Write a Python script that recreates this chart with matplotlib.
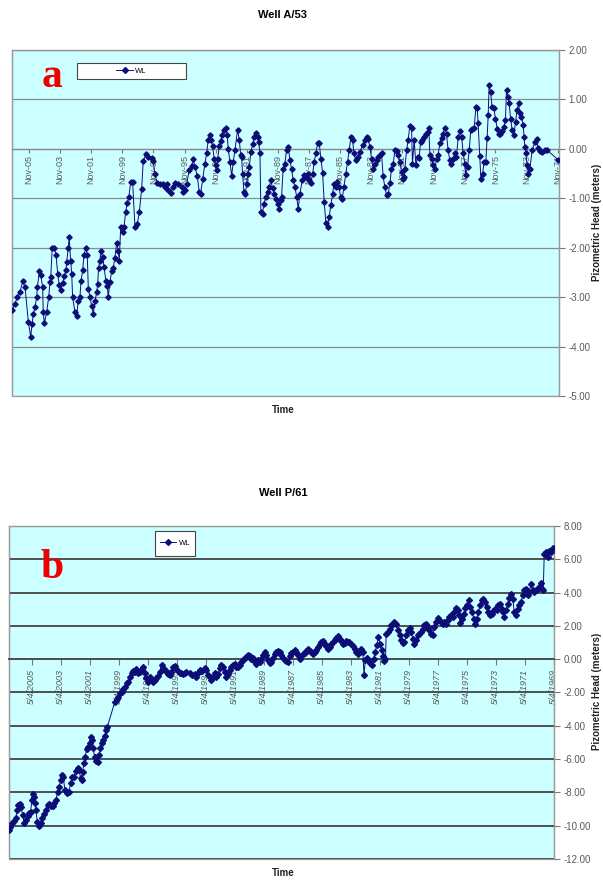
import numpy as np
import matplotlib
matplotlib.use("Agg")
import matplotlib.pyplot as plt
from matplotlib.patches import Rectangle
from matplotlib.lines import Line2D

plt.rcParams['font.family'] = ['Liberation Sans', 'DejaVu Sans']

# --- well A/53 (decimal year, water level m) ---
years_a = [
    2006.91, 2006.74, 2006.59, 2006.42, 2006.24, 2006.09, 2005.88, 2005.73, 2005.64, 2005.56,
    2005.45, 2005.34, 2005.30, 2005.17, 2005.08, 2004.96, 2004.92, 2004.85, 2004.70, 2004.57,
    2004.49, 2004.44, 2004.34, 2004.21, 2004.10, 2003.99, 2003.89, 2003.80, 2003.67, 2003.57,
    2003.46, 2003.41, 2003.31, 2003.25, 2003.16, 2003.09, 2003.03, 2002.88, 2002.77, 2002.67,
    2002.56, 2002.49, 2002.38, 2002.30, 2002.17, 2002.09, 2002.02, 2001.91, 2001.81, 2001.70,
    2001.59, 2001.48, 2001.42, 2001.36, 2001.27, 2001.23, 2001.10, 2001.01, 2000.89, 2000.80,
    2000.74, 2000.63, 2000.52, 2000.42, 2000.31, 2000.20, 2000.09, 2000.03, 1999.94, 1999.81,
    1999.73, 1999.62, 1999.52, 1999.41, 1999.30, 1999.17, 1999.02, 1998.87, 1998.74, 1998.59,
    1998.49, 1998.31, 1998.17, 1997.95, 1997.84, 1997.74, 1997.59, 1997.41, 1997.24, 1997.09,
    1996.98, 1996.88, 1996.73, 1996.60, 1996.45, 1996.24, 1996.02, 1995.92, 1995.81, 1995.70,
    1995.53, 1995.38, 1995.27, 1995.16, 1995.01, 1994.89, 1994.80, 1994.67, 1994.52, 1994.41,
    1994.31, 1994.20, 1994.13, 1994.03, 1993.92, 1993.83, 1993.77, 1993.70, 1993.60, 1993.51,
    1993.41, 1993.30, 1993.19, 1993.09, 1993.02, 1992.91, 1992.80, 1992.70, 1992.59, 1992.42,
    1992.31, 1992.22, 1992.16, 1992.10, 1992.01, 1991.93, 1991.84, 1991.77, 1991.67, 1991.56,
    1991.45, 1991.35, 1991.24, 1991.13, 1991.07, 1990.98, 1990.92, 1990.81, 1990.73, 1990.60,
    1990.49, 1990.39, 1990.28, 1990.17, 1990.06, 1989.95, 1989.85, 1989.74, 1989.65, 1989.59,
    1989.49, 1989.38, 1989.27, 1989.16, 1989.05, 1988.95, 1988.84, 1988.73, 1988.62, 1988.52,
    1988.41, 1988.26, 1988.15, 1988.03, 1987.92, 1987.81, 1987.72, 1987.59, 1987.49, 1987.38,
    1987.27, 1987.17, 1987.06, 1986.95, 1986.85, 1986.74, 1986.63, 1986.53, 1986.42, 1986.31,
    1986.23, 1986.12, 1986.01, 1985.90, 1985.79, 1985.69, 1985.58, 1985.45, 1985.34, 1985.24,
    1985.13, 1985.02, 1984.94, 1984.83, 1984.70, 1984.55, 1984.38, 1984.23, 1984.12, 1984.02,
    1983.91, 1983.80, 1983.70, 1983.59, 1983.48, 1983.38, 1983.27, 1983.16, 1983.06, 1982.95,
    1982.84, 1982.73, 1982.62, 1982.52, 1982.41, 1982.30, 1982.19, 1982.09, 1981.98, 1981.87,
    1981.81, 1981.72, 1981.66, 1981.55, 1981.45, 1981.34, 1981.23, 1981.17, 1981.06, 1980.95,
    1980.84, 1980.74, 1980.65, 1980.55, 1980.44, 1980.31, 1980.20, 1980.12, 1980.05, 1979.94,
    1979.84, 1979.73, 1979.62, 1979.52, 1979.41, 1979.30, 1979.20, 1979.09, 1978.98, 1978.88,
    1978.77, 1978.66, 1978.55, 1978.45, 1978.34, 1978.23, 1978.12, 1978.01, 1977.91, 1977.80,
    1977.74, 1977.63, 1977.52, 1977.42, 1977.31, 1977.20, 1977.09, 1977.01, 1976.95, 1976.84,
    1976.77, 1976.66, 1976.56, 1976.45, 1976.37, 1976.30, 1976.24, 1976.15, 1976.05, 1975.94,
    1975.83, 1975.72, 1975.62, 1975.51, 1975.40, 1975.29, 1975.19, 1975.12, 1975.04, 1974.95,
    1974.86, 1974.76, 1974.65, 1974.54, 1974.44, 1974.35, 1974.27, 1974.16, 1974.05, 1973.99,
    1973.94, 1973.88, 1973.80, 1973.71, 1973.62, 1973.47, 1973.30, 1973.19, 1973.09, 1972.94,
    1972.81, 1972.66, 1972.50, 1971.80,
]
level_a = [
    -3.26, -3.13, -3.00, -2.90, -2.68, -2.80, -3.50, -3.80, -3.55, -3.35,
    -3.20, -3.00, -2.80, -2.48, -2.55, -2.80, -3.30, -3.53, -3.30, -3.00,
    -2.70, -2.60, -2.00, -2.00, -2.14, -2.53, -2.75, -2.86, -2.72, -2.58,
    -2.45, -2.28, -2.00, -1.79, -2.26, -2.53, -3.00, -3.30, -3.38, -3.07,
    -3.00, -2.67, -2.45, -2.14, -2.00, -2.14, -2.84, -3.00, -3.18, -3.34,
    -3.07, -2.90, -2.73, -2.41, -2.26, -2.07, -2.18, -2.40, -2.67, -2.77,
    -3.00, -2.70, -2.47, -2.41, -2.20, -1.91, -2.06, -2.26, -1.59, -1.69,
    -1.59, -1.28, -1.09, -0.97, -0.68, -0.68, -1.59, -1.52, -1.28, -0.81,
    -0.25, -0.10, -0.16, -0.18, -0.25, -0.50, -0.70, -0.71, -0.72, -0.78,
    -0.72, -0.84, -0.90, -0.78, -0.70, -0.71, -0.78, -0.88, -0.83, -0.72,
    -0.43, -0.34, -0.21, -0.36, -0.55, -0.87, -0.91, -0.62, -0.30, -0.09,
    0.18, 0.28, 0.18, 0.05, -0.20, -0.33, -0.43, -0.20, 0.05, 0.16,
    0.28, 0.38, 0.43, 0.28, -0.01, -0.26, -0.55, -0.26, -0.03, 0.39,
    0.18, -0.13, -0.16, -0.50, -0.87, -0.92, -0.72, -0.50, -0.36, -0.06,
    0.09, 0.24, 0.32, 0.23, 0.14, -0.09, -1.28, -1.31, -1.11, -0.97,
    -0.87, -0.77, -0.64, -0.80, -0.91, -1.01, -1.11, -1.21, -1.04, -0.97,
    -0.40, -0.30, -0.03, 0.04, -0.23, -0.40, -0.64, -0.77, -0.97, -1.21,
    -0.91, -0.64, -0.53, -0.57, -0.50, -0.64, -0.70, -0.50, -0.26, -0.09,
    0.11, 0.12, -0.20, -0.49, -1.07, -1.50, -1.58, -1.38, -1.14, -0.92,
    -0.72, -0.77, -0.67, -0.77, -0.97, -1.01, -0.77, -0.50, -0.26, -0.03,
    0.24, 0.18, -0.09, -0.23, -0.16, -0.06, 0.07, 0.18, 0.24, 0.19,
    0.04, -0.20, -0.40, -0.30, -0.23, -0.16, -0.13, -0.09, -0.55, -0.77,
    -0.94, -0.91, -0.70, -0.40, -0.30, -0.03, -0.05, -0.13, -0.26, -0.47,
    -0.60, -0.57, -0.40, -0.03, 0.18, 0.46, 0.43, -0.30, 0.18, -0.33,
    -0.16, -0.18, 0.14, 0.18, 0.24, 0.30, 0.34, 0.43, -0.13, -0.20,
    -0.33, -0.40, -0.20, -0.13, 0.11, 0.21, 0.31, 0.43, 0.31, -0.03,
    -0.22, -0.30, -0.20, -0.08, -0.16, 0.24, 0.36, 0.24, -0.09, -0.30,
    -0.53, -0.36, -0.03, 0.39, 0.41, 0.43, 0.85, 0.82, 0.53, -0.15,
    -0.60, -0.50, -0.26, -0.26, 0.21, 0.68, 1.29, 1.16, 0.85, 0.82,
    0.61, 0.41, 0.30, 0.30, 0.36, 0.45, 0.58, 1.20, 1.04, 0.92,
    0.61, 0.38, 0.28, 0.55, 0.78, 0.92, 0.73, 0.65, 0.48, 0.24,
    0.04, -0.09, -0.33, -0.50, -0.40, -0.03, 0.14, 0.19, 0.01, -0.04,
    -0.06, -0.03, -0.03, -0.22,
]

# --- well P/61 ---
years_b = [
    2006.90, 2006.83, 2006.71, 2006.56, 2006.44, 2006.33, 2006.26, 2006.14, 2006.07, 2005.96,
    2005.85, 2005.73, 2005.61, 2005.50, 2005.41, 2005.32, 2005.25, 2005.18, 2005.11, 2005.04,
    2004.95, 2004.83, 2004.72, 2004.61, 2004.49, 2004.35, 2004.24, 2004.12, 2004.01, 2003.89,
    2003.78, 2003.66, 2003.55, 2003.44, 2003.34, 2003.25, 2003.16, 2003.04, 2002.93, 2002.77,
    2002.65, 2002.54, 2002.42, 2002.29, 2002.17, 2002.06, 2001.96, 2001.89, 2001.82, 2001.74,
    2001.65, 2001.55, 2001.44, 2001.32, 2001.25, 2001.16, 2001.09, 2001.00, 2000.91, 2000.79,
    2000.70, 2000.59, 2000.50, 2000.41, 2000.29, 2000.22, 2000.13, 1999.60, 1999.48, 1999.37,
    1999.26, 1999.14, 1999.03, 1998.91, 1998.79, 1998.68, 1998.57, 1998.45, 1998.34, 1998.22,
    1998.11, 1998.00, 1997.88, 1997.76, 1997.65, 1997.53, 1997.42, 1997.31, 1997.19, 1997.07,
    1996.96, 1996.85, 1996.73, 1996.62, 1996.50, 1996.38, 1996.27, 1996.16, 1996.04, 1995.93,
    1995.81, 1995.70, 1995.58, 1995.47, 1995.35, 1995.24, 1995.12, 1995.01, 1994.90, 1994.78,
    1994.66, 1994.44, 1994.25, 1994.09, 1993.97, 1993.86, 1993.75, 1993.56, 1993.40, 1993.29,
    1993.17, 1993.06, 1992.94, 1992.83, 1992.71, 1992.60, 1992.49, 1992.37, 1992.25, 1992.14,
    1992.02, 1991.91, 1991.80, 1991.68, 1991.56, 1991.45, 1991.34, 1991.22, 1991.11, 1990.99,
    1990.87, 1990.76, 1990.65, 1990.53, 1990.42, 1990.30, 1990.19, 1990.08, 1989.96, 1989.84,
    1989.73, 1989.61, 1989.50, 1989.39, 1989.27, 1989.15, 1989.04, 1988.93, 1988.81, 1988.70,
    1988.58, 1988.46, 1988.35, 1988.24, 1988.12, 1988.01, 1987.89, 1987.78, 1987.66, 1987.55,
    1987.43, 1987.32, 1987.20, 1987.09, 1986.98, 1986.86, 1986.74, 1986.63, 1986.51, 1986.40,
    1986.29, 1986.17, 1986.05, 1985.94, 1985.83, 1985.71, 1985.60, 1985.48, 1985.36, 1985.25,
    1985.14, 1985.02, 1984.91, 1984.79, 1984.68, 1984.57, 1984.45, 1984.33, 1984.22, 1984.10,
    1983.99, 1983.88, 1983.76, 1983.64, 1983.53, 1983.42, 1983.30, 1983.19, 1983.07, 1982.95,
    1982.84, 1982.73, 1982.61, 1982.50, 1982.42, 1982.33, 1982.22, 1982.11, 1981.99, 1981.88,
    1981.76, 1981.65, 1981.54, 1981.42, 1981.32, 1981.21, 1981.11, 1981.01, 1980.94, 1980.89,
    1980.78, 1980.66, 1980.54, 1980.43, 1980.32, 1980.20, 1980.09, 1979.97, 1979.86, 1979.75,
    1979.63, 1979.51, 1979.40, 1979.28, 1979.17, 1979.06, 1978.94, 1978.82, 1978.71, 1978.60,
    1978.48, 1978.37, 1978.25, 1978.13, 1978.02, 1977.91, 1977.79, 1977.68, 1977.56, 1977.45,
    1977.33, 1977.22, 1977.10, 1976.99, 1976.87, 1976.76, 1976.65, 1976.53, 1976.41, 1976.30,
    1976.18, 1976.07, 1975.96, 1975.84, 1975.79, 1975.65, 1975.54, 1975.43, 1975.31, 1975.20,
    1975.08, 1974.97, 1974.86, 1974.74, 1974.65, 1974.53, 1974.41, 1974.30, 1974.19, 1974.07,
    1973.96, 1973.84, 1973.73, 1973.62, 1973.50, 1973.38, 1973.27, 1973.15, 1973.04, 1972.93,
    1972.81, 1972.74, 1972.62, 1972.51, 1972.40, 1972.28, 1972.17, 1972.05, 1971.94, 1971.82,
    1971.71, 1971.59, 1971.48, 1971.36, 1971.25, 1971.14, 1971.02, 1970.90, 1970.79, 1970.68,
    1970.56, 1970.45, 1970.33, 1970.21, 1970.14, 1970.06, 1969.99, 1969.87, 1969.76, 1969.64,
    1969.52, 1969.37,
]
level_b = [
    -10.26, -10.10, -9.86, -9.72, -9.56, -9.06, -8.76, -8.72, -8.86, -9.36,
    -9.82, -9.66, -9.42, -9.26, -9.16, -8.46, -8.10, -8.26, -8.66, -9.06,
    -9.76, -10.02, -9.82, -9.56, -9.30, -9.06, -8.76, -8.70, -8.82, -8.82,
    -8.66, -8.46, -7.96, -7.66, -7.26, -6.96, -7.10, -7.86, -8.02, -7.96,
    -7.46, -7.10, -7.06, -6.70, -6.56, -6.66, -7.16, -7.26, -6.76, -6.26,
    -5.86, -5.42, -5.30, -5.06, -4.66, -4.86, -5.36, -5.86, -6.10, -6.16,
    -5.76, -5.36, -5.06, -4.86, -4.62, -4.26, -4.10, -2.56, -2.42, -2.26,
    -2.06, -1.96, -1.82, -1.66, -1.46, -1.36, -1.10, -0.86, -0.70, -0.78,
    -0.62, -0.86, -0.76, -0.62, -0.46, -0.86, -1.16, -1.36, -1.06, -1.26,
    -1.36, -1.26, -1.16, -1.02, -0.76, -0.36, -0.56, -0.66, -0.70, -0.90,
    -0.96, -0.76, -0.46, -0.42, -0.62, -0.70, -0.82, -0.86, -0.90, -0.86,
    -0.76, -0.86, -0.96, -0.90, -1.06, -0.86, -0.66, -0.70, -0.56, -0.66,
    -0.96, -1.06, -1.26, -1.06, -0.86, -1.06, -0.90, -0.56, -0.36, -0.50,
    -0.76, -1.10, -0.90, -0.66, -0.50, -0.36, -0.26, -0.50, -0.46, -0.36,
    -0.16, -0.02, 0.10, 0.14, 0.24, 0.18, 0.04, 0.10, -0.16, -0.26,
    -0.06, -0.16, 0.04, 0.24, 0.44, 0.24, -0.02, -0.22, -0.16, 0.10,
    0.30, 0.44, 0.50, 0.44, 0.24, 0.10, -0.02, -0.10, -0.16, 0.18,
    0.38, 0.44, 0.58, 0.44, 0.24, 0.04, 0.18, 0.34, 0.38, 0.50,
    0.64, 0.50, 0.44, 0.30, 0.44, 0.58, 0.74, 0.90, 1.04, 1.10,
    0.94, 0.78, 0.64, 0.74, 0.90, 1.04, 1.18, 1.30, 1.38, 1.24,
    1.10, 0.90, 0.98, 1.10, 1.04, 1.04, 0.94, 0.78, 0.64, 0.44,
    0.34, 0.44, 0.64, 0.44, -0.96, -0.06, 0.10, -0.02, -0.22, -0.36,
    0.04, 0.44, 0.84, 1.34, 0.94, 0.54, 0.20, -0.10, 0.00, 1.54,
    1.64, 1.84, 2.04, 2.14, 2.24, 2.14, 1.74, 1.44, 1.18, 0.98,
    1.04, 1.44, 1.74, 1.90, 1.64, 1.24, 0.94, 1.14, 1.44, 1.54,
    1.64, 1.84, 2.04, 2.14, 1.94, 1.74, 1.54, 1.44, 1.94, 2.24,
    2.50, 2.38, 2.24, 2.14, 2.24, 2.14, 2.34, 2.54, 2.64, 2.54,
    2.84, 3.10, 2.94, 2.64, 2.18, 2.44, 2.74, 3.10, 3.24, 3.54,
    3.14, 2.84, 2.44, 2.14, 2.44, 2.84, 3.24, 3.54, 3.64, 3.44,
    3.14, 2.84, 2.64, 2.74, 2.90, 3.04, 2.94, 3.24, 3.34, 3.04,
    2.84, 2.54, 2.94, 3.34, 3.70, 3.90, 3.64, 2.84, 2.64, 3.04,
    3.24, 3.44, 3.84, 4.14, 4.24, 3.84, 4.04, 4.54, 4.14, 4.04,
    4.14, 4.24, 4.34, 4.58, 4.24, 4.14, 6.34, 6.44, 6.14, 6.50,
    6.44, 6.70,
]

ticks_a = [2005, 2003, 2001, 1999, 1997, 1995, 1993, 1991, 1989, 1987,
           1985, 1983, 1981, 1979, 1977, 1975, 1973, 1971]
labels_a = ['Nov-05', 'Nov-03', 'Nov-01', 'Nov-99', 'Nov-97', 'Nov-95', 'Nov-93',
            'Nov-91', 'Nov-89', 'Nov-87', 'Nov-85', 'Nov-83', 'Nov-81', 'Nov-79',
            'Nov-77', 'Nov-75', 'Nov-73', 'Nov-71']
ticks_b = [2005, 2003, 2001, 1999, 1997, 1995, 1993, 1991, 1989, 1987,
           1985, 1983, 1981, 1979, 1977, 1975, 1973, 1971, 1969]
labels_b = ['5/4/%d' % y for y in ticks_b]

BG = '#ccffff'
NAVY = '#0d0d78'
GRAY = '#5a5a5a'

fig = plt.figure(figsize=(6.03, 8.8), dpi=100)
ax_a = fig.add_axes([0.0199, 0.55, 0.907, 0.3932])
ax_b = fig.add_axes([0.0149, 0.0239, 0.9038, 0.3784])


def style_axes(ax, ylo, yhi, ystep, gridcol, gridlw, tick_yrs, tick_lbls, tick_off,
               xl, italic, tlen, tpad):
    # x axis drawn along the zero line, like the Excel original
    ax.spines['bottom'].set_position(('data', 0))
    ax.spines['bottom'].set_color(gridcol)
    ax.spines['bottom'].set_linewidth(gridlw)
    for s in ('top', 'left', 'right'):
        ax.spines[s].set_color('#9a9a9a')
        ax.spines[s].set_linewidth(0.9)
    ax.set_facecolor(BG)
    ax.set_xlim(*xl)
    ax.set_ylim(ylo, yhi)
    ax.set_yticks(np.arange(ylo, yhi + 0.01, ystep))
    ax.yaxis.set_major_formatter(matplotlib.ticker.FormatStrFormatter('%.2f'))
    ax.yaxis.tick_right()
    ax.tick_params(axis='y', direction='out', length=4, width=0.8, color='#777777',
                   labelsize=7, labelcolor=GRAY, pad=3)
    ax.yaxis.grid(True, color=gridcol, lw=gridlw)
    ax.set_axisbelow(True)
    ax.set_xticks([t + tick_off for t in tick_yrs])
    ax.set_xticklabels(tick_lbls, fontsize=6.5, color=GRAY,
                       fontstyle='italic' if italic else 'normal')
    ax.tick_params(axis='x', direction='out', length=tlen, width=0.8, color='#777777',
                   pad=tpad, labelrotation=90)
    ax.add_patch(Rectangle((0, 0), 1, 1, transform=ax.transAxes, fill=False,
                           edgecolor='#9a9a9a', lw=0.9, zorder=0.5, clip_on=False))


style_axes(ax_a, -5, 2, 1, '#8a8a8a', 0.9, ticks_a, labels_a, 10 / 12,
           (2006.93, 1971.75), False, 3, 1.5)
style_axes(ax_b, -12, 8, 2, '#4f4f4f', 1.4, ticks_b, labels_b, 0.34,
           (2006.90, 1969.32), True, 4, 3)

ax_a.plot(years_a, level_a, color=NAVY, lw=0.7, marker='D', ms=2.7, zorder=3)
ax_b.plot(years_b, level_b, color=NAVY, lw=0.7, marker='D', ms=3.0, zorder=3)

# axis titles
fig.text(0.99, 0.747, 'Pizometric Head (meters)', rotation=90, ha='center', va='center',
         fontsize=7, fontweight='bold', color='#222222')
fig.text(0.99, 0.214, 'Pizometric Head (meters)', rotation=90, ha='center', va='center',
         fontsize=7, fontweight='bold', color='#222222')
fig.text(0.469, 0.983, 'Well A/53', ha='center', va='center', fontsize=8, fontweight='bold')
fig.text(0.469, 0.534, 'Time', ha='center', va='center', fontsize=7, fontweight='bold', color='#222222')
fig.text(0.469, 0.440, 'Well P/61', ha='center', va='center', fontsize=8, fontweight='bold')
fig.text(0.469, 0.008, 'Time', ha='center', va='center', fontsize=7, fontweight='bold', color='#222222')

# panel letters
ax_a.text(0.073, 0.893, 'a', transform=ax_a.transAxes, ha='center', va='baseline',
          fontsize=30, fontweight='bold', color='#ee0000', family='Liberation Serif')
ax_b.text(0.079, 0.844, 'b', transform=ax_b.transAxes, ha='center', va='baseline',
          fontsize=30, fontweight='bold', color='#ee0000', family='Liberation Serif')

# legends
handle = [Line2D([], [], color=NAVY, lw=0.7, marker='D', ms=3)]
for ax, box in ((ax_a, (0.119, 0.916, 0.199, 0.046)), (ax_b, (0.268, 0.91, 0.073, 0.075))):
    ax.add_patch(Rectangle(box[:2], box[2], box[3], transform=ax.transAxes,
                           facecolor='white', edgecolor='#444444', lw=0.8, zorder=4))
    ax.legend(handle, ['WL'], loc='center', frameon=False, fontsize=5.5,
              handlelength=2.2, handletextpad=0.3, borderpad=0,
              bbox_to_anchor=(box[0] + box[2] / 2, box[1] + box[3] / 2))

fig.savefig('out.png', dpi=100)
